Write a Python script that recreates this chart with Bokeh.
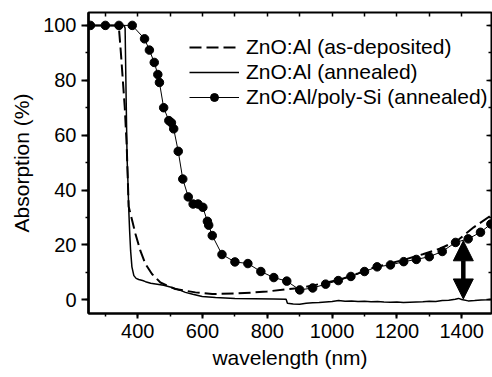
from bokeh.plotting import figure
from bokeh.models import (Range1d, LinearAxis, SingleIntervalTicker, Legend, LegendItem,
                          Arrow, NormalHead)
from bokeh.embed import file_html
from bokeh.resources import INLINE

# ---- data ----
asdep_x = [250, 300, 338, 342, 348, 354, 360, 366, 372, 383, 393, 408, 424, 444, 470, 516, 578,
           630, 696, 750, 799, 861, 902, 940, 980, 1025, 1080, 1129, 1180, 1231, 1280, 1334,
           1386, 1437, 1490]
asdep_y = [100, 100, 100, 99, 90, 80, 70, 56, 34, 28.8, 24, 17.9, 13, 9.4, 6.3, 3.9, 2.7,
           2.1, 2.3, 2.6, 3.0, 3.9, 4.3, 5.2, 6.2, 7.4, 9.6, 11.8, 13.3, 14.9, 16.6, 18.7,
           21.5, 26.4, 30.7]

ann_x = [250, 300, 358, 361, 364, 367, 370, 372, 375, 378, 382, 388, 395, 403, 415, 424, 440,
         460, 480, 506, 530, 547, 570, 599, 640, 700, 760, 820, 858, 862, 880, 900, 920, 940,
         960, 980, 1000, 1020, 1040, 1060, 1080, 1100, 1120, 1140, 1160, 1180, 1200, 1220,
         1240, 1260, 1280, 1300, 1320, 1340, 1360, 1380, 1390, 1400, 1420, 1440, 1460, 1480, 1490]
ann_y = [100, 100, 100, 99, 75, 52, 42, 33.7, 25, 17.9, 12, 8.8, 7.8, 7.4, 7.0, 6.6, 6.0,
         5.7, 5.3, 4.5, 3.5, 2.7, 2.0, 1.2, 0.8, 0.5, 0.4, 0.3, 0.2, -1.3, -1.5, -1.6, -1.3, -1.1,
         -1.0, -0.8, -0.6, -0.3, -0.5, -0.4, -0.6, -0.5, -0.7, -0.6, -0.8, -0.9, -0.8, -1.0,
         -0.9, -0.8, -0.7, -0.5, -0.6, -0.3, -0.2, 0.2, 0.5, 0.1, -0.4, -0.3, -0.1, 0.0, 0.1]

poly_x = [254, 300, 342, 383, 421, 436, 451, 462, 467, 480, 496, 504, 511, 525, 539, 556, 571,
          586, 601, 615, 619, 630, 660, 700, 740, 780, 820, 860, 900, 940, 980, 1019, 1058,
          1100, 1139, 1180, 1221, 1260, 1300, 1340, 1381, 1420, 1458, 1490]
poly_y = [100, 100, 100, 100, 95.1, 91, 86.5, 82.1, 79.2, 70, 65.3, 64.5, 62.3, 54.1, 44,
          37.5, 34.9, 34.9, 33.7, 28.6, 27.2, 23.4, 16.5, 13.8, 13.2, 10.3, 8.1, 6.8, 3.6, 4.3,
          5.7, 7.0, 8.5, 10.3, 12.0, 12.7, 13.9, 14.7, 15.7, 17.6, 20.9, 22.2, 24.6, 27.6]

series_labels = ["ZnO:Al (as-deposited)", "ZnO:Al (annealed)", "ZnO:Al/poly-Si (annealed)"]

arrow_x = 1405
arrow_top = 21.5
arrow_bottom = 0.3

x_label = "wavelength (nm)"
y_label = "Absorption (%)"

FONT = "Liberation Sans"

p = figure(width=492, height=377, output_backend="svg", toolbar_location=None,
           x_range=Range1d(248, 1492), y_range=Range1d(-5, 104.7),
           min_border_left=88, min_border_right=1, min_border_top=12, min_border_bottom=64,
           x_axis_location=None, y_axis_location=None)
p.grid.visible = False
p.outline_line_color = "black"
p.outline_line_width = 2
p.background_fill_color = "white"
p.border_fill_color = "white"

# bottom axis
xb = LinearAxis(ticker=SingleIntervalTicker(interval=200, num_minor_ticks=2),
                axis_label=x_label)
xb.major_tick_out = 5
xb.major_tick_in = 0
xb.minor_tick_out = 3
xb.minor_tick_in = 0
xb.major_label_standoff = 5
xb.axis_label_standoff = 5
xb.major_label_text_font = FONT
xb.major_label_text_font_size = "20px"
xb.major_label_text_color = "black"
xb.axis_label_text_font = FONT
xb.axis_label_text_font_size = "21px"
xb.axis_label_text_font_style = "normal"
xb.axis_label_text_color = "black"
xb.axis_line_width = 2
xb.major_tick_line_width = 2
xb.minor_tick_line_width = 1.5
p.add_layout(xb, "below")

# left axis
yl = LinearAxis(ticker=SingleIntervalTicker(interval=20, num_minor_ticks=2),
                axis_label=y_label)
yl.major_tick_out = 7
yl.major_tick_in = 0
yl.minor_tick_out = 3
yl.minor_tick_in = 0
yl.major_label_standoff = 5
yl.axis_label_standoff = 7
yl.major_label_text_font = FONT
yl.major_label_text_font_size = "20px"
yl.major_label_text_color = "black"
yl.axis_label_text_font = FONT
yl.axis_label_text_font_size = "21px"
yl.axis_label_text_font_style = "normal"
yl.axis_label_text_color = "black"
yl.axis_line_width = 2.5
yl.major_tick_line_width = 2
yl.minor_tick_line_width = 1.5
p.add_layout(yl, "left")

# top axis (ticks only)
xt = LinearAxis(ticker=SingleIntervalTicker(interval=100, num_minor_ticks=0))
xt.major_tick_in = 4
xt.major_tick_out = 0
xt.minor_tick_in = 0
xt.minor_tick_out = 0
xt.major_label_text_font_size = "0px"
xt.major_label_text_color = None
xt.major_label_standoff = 0
xt.axis_line_color = None
xt.major_tick_line_width = 1.5
p.add_layout(xt, "above")

# right axis (ticks only)
yr = LinearAxis(ticker=SingleIntervalTicker(interval=20, num_minor_ticks=2))
yr.major_tick_in = 5
yr.major_tick_out = 0
yr.minor_tick_in = 3
yr.minor_tick_out = 0
yr.major_label_text_font_size = "0px"
yr.major_label_text_color = None
yr.major_label_standoff = 0
yr.axis_line_color = None
yr.major_tick_line_width = 1.5
yr.minor_tick_line_width = 1.5
p.add_layout(yr, "right")

r_dash = p.line(asdep_x, asdep_y, line_color="black", line_width=2, line_dash="12 5")
r_ann = p.line(ann_x, ann_y, line_color="black", line_width=1.5)
r_poly_l = p.line(poly_x, poly_y, line_color="black", line_width=1)
r_poly_m = p.scatter(poly_x, poly_y, marker="circle", size=8.5, fill_color="black",
                     line_color="black")

arrow = Arrow(start=NormalHead(size=20, fill_color="black", line_color="black"),
              end=NormalHead(size=20, fill_color="black", line_color="black"),
              x_start=arrow_x, y_start=arrow_top, x_end=arrow_x, y_end=arrow_bottom,
              line_width=4.5, line_color="black")
p.add_layout(arrow)

legend = Legend(items=[
    LegendItem(label=series_labels[0], renderers=[r_dash]),
    LegendItem(label=series_labels[1], renderers=[r_ann]),
    LegendItem(label=series_labels[2], renderers=[r_poly_l, r_poly_m]),
], location=(101, 204))
legend.label_text_font = FONT
legend.label_text_font_size = "21px"
legend.label_text_color = "black"
legend.glyph_width = 50
legend.glyph_height = 20
legend.label_height = 25
legend.label_standoff = 7
legend.spacing = 0
legend.padding = 0
legend.margin = 0
legend.border_line_color = None
legend.background_fill_alpha = 0
p.add_layout(legend, "center")

open("out.html", "w").write(file_html(p, INLINE))
